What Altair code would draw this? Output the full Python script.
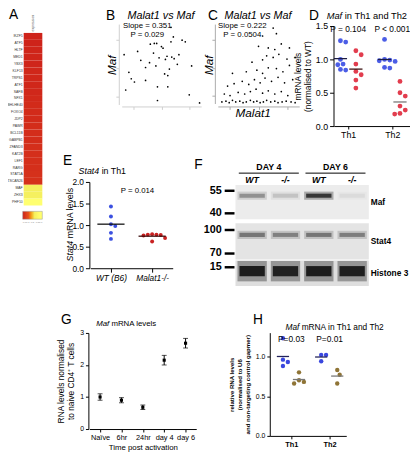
import altair as alt
import numpy as np
import pandas as pd

FONT = "Liberation Sans"
W, H = 410, 444


def cx(p):
    return p - 8


def cy(p):
    return p - 8


# ===================== DATA =====================
# A: heatmap
genes = ["IKZF5", "ATF5", "HLTF", "MED1", "YBX3", "KLF13", "TRPS1", "ATF1", "SAFB", "NFX1",
         "BHLHE40", "FOXO4", "JDP2", "PAWR", "BCL11B", "GABPB1", "ZFAND3", "KAT2B", "LEF1",
         "RARG", "STAT5A", "ZSCAN26", "MAF", "ZHX3", "PHF10"]
heat = [0.03, 0.03, 0.04, 0.04, 0.04, 0.05, 0.05, 0.05, 0.05, 0.06, 0.07, 0.07, 0.07, 0.08,
        0.08, 0.08, 0.09, 0.09, 0.09, 0.09, 0.10, 0.10, 0.60, 0.62, 0.97]
heat_col = "expression"

# B: Malat1 vs Maf scatter (arbitrary units)
b_malat1 = [62, 3, 36, 41, 44, 50, 62, 76, 80, 47, 55, 57, 63, 66, 72, 30, 43, 60, 9, 54,
            58, 12, 30, 16, 45, 58, 85, 45, 98, 24, 35, 70, 52, 65, 20, 40, 88, 5]
b_maf = [96, 62, 75, 76, 76, 72, 78, 80, 78, 58, 56, 60, 59, 57, 62, 46, 48, 44, 40, 38,
         36, 32, 30, 28, 22, 22, 12, 5, 2, 55, 52, 50, 70, 84, 66, 64, 48, 18]

# C: Malat1 vs Maf scatter (arbitrary units)
c_malat1 = [5, 10, 14, 18, 22, 27, 31, 35, 40, 44, 48, 52, 56, 60, 65, 70, 74, 79, 84, 90, 95,
            8, 15, 25, 33, 40, 47, 55, 62, 70, 78, 86,
            12, 20, 30, 38, 45, 52, 58, 66, 74, 82, 92,
            18, 35, 48, 55, 62, 72, 80, 88,
            42, 55, 60, 68, 75, 85, 95,
            50, 62, 70, 78, 88,
            55, 72, 68]
c_maf = [2, 3, 1, 4, 2, 3, 1, 2, 4, 2, 3, 1, 2, 4, 2, 3, 1, 2, 3, 2, 1,
         12, 10, 14, 12, 15, 18, 13, 16, 12, 15, 10,
         22, 25, 28, 24, 30, 26, 32, 28, 33, 26, 30,
         38, 40, 42, 38, 45, 44, 40, 48,
         52, 55, 60, 58, 62, 56, 58,
         72, 70, 68, 75, 70,
         85, 88, 95]

# D: Maf in Th1 and Th2 (normalised to WT)
d_th1_wt = [1.28, 1.26, 1.00, 0.93, 0.92, 0.85, 0.84]
d_th1_ko = [1.13, 1.07, 0.93, 0.82, 0.77, 0.69, 0.57]
d_th2_wt = [1.30, 1.00, 0.99, 0.98, 0.97, 0.88, 0.87]
d_th2_ko = [0.67, 0.50, 0.45, 0.30, 0.24, 0.19, 0.18]
d_pvals = ["P = 0.104", "P < 0.001"]

# E: Stat4 in Th1
e_wt = [1.43, 1.20, 1.02, 0.98, 0.82, 0.68]
e_ko = [0.79, 0.78, 0.78, 0.77, 0.76, 0.70, 0.62]
e_labels = ["WT (B6)", "Malat1-/-"]

# F: western blot
f_lanes = ["WT", "-/-", "WT", "-/-"]
f_days = ["DAY 4", "DAY 6"]
f_proteins = ["Maf", "Stat4", "Histone 3"]
f_intensity = {"Maf": [0.35, 0.15, 0.8, 0.06],
               "Stat4": [0.45, 0.40, 0.45, 0.42],
               "Histone 3": [0.95, 0.92, 0.95, 0.93]}
f_markers = ["55", "40", "100", "70", "15"]

# G: Maf mRNA time course
g_time = ["Naïve", "6hr", "24hr", "day 4", "day 6"]
g_mean = [1.00, 0.90, 0.68, 2.15, 2.68]
g_sem = [0.10, 0.08, 0.07, 0.15, 0.15]

# H: Maf mRNA in Th1 and Th2 (gapmer)
h_th1_ctrl = [1.23, 0.96, 0.93, 0.88]
h_th1_gap = [0.80, 0.70, 0.66, 0.68]
h_th2_ctrl = [1.02, 1.02, 0.94]
h_th2_gap = [0.83, 0.77, 0.66]
h_pvals = ["P=0.03", "P=0.01"]

# ===================== STYLE / LAYOUT =====================
BLUE_D, RED_D = "#4b5de6", "#e23d4e"
BLUE_E, RED_E = "#3b50e0", "#c92222"
BLUE_H, BROWN_H = "#3a47de", "#8f7436"

one = pd.DataFrame({"_": [0]})


def txt(s, px, py, size=9, style="normal", weight="normal", align="left", angle=0,
        baseline="middle", color="black"):
    return alt.Chart(one).mark_text(
        text=s, fontSize=size, fontStyle=style, fontWeight=weight, align=align,
        angle=angle, baseline=baseline, color=color, font=FONT
    ).encode(x=alt.value(cx(px)), y=alt.value(cy(py)))


def swarm(vals, ypx, r):
    placed = []
    offs = [0.0] * len(vals)
    cands = [0.0]
    for k in range(1, 12):
        cands += [k * r, -k * r]
    for i in sorted(range(len(vals)), key=lambda i: -vals[i]):
        y = vals[i] * ypx
        for c in cands:
            if all((c - a) ** 2 + (y - b) ** 2 >= (2 * r) ** 2 * 0.95 for a, b in placed):
                break
        placed.append((c, y))
        offs[i] = c
    return offs


def dotplot(sets, xscale, yscale, xaxis, yaxis, r, ypx, xpx, size, half, lw=1.3):
    pts, means = [], []
    for center, vals, col, lcol in sets:
        offs = swarm(vals, ypx, r)
        for v, o in zip(vals, offs):
            pts.append({"x": center + o / xpx, "y": v, "c": col})
        means.append({"x": center - half, "x2": center + half,
                      "y": float(np.mean(vals)), "c": lcol})
    p = alt.Chart(pd.DataFrame(pts)).mark_circle(size=size, opacity=1).encode(
        x=alt.X("x:Q", scale=xscale, axis=xaxis),
        y=alt.Y("y:Q", scale=yscale, axis=yaxis),
        color=alt.Color("c:N", scale=None))
    l = alt.Chart(pd.DataFrame(means)).mark_rule(strokeWidth=lw).encode(
        x=alt.X("x:Q", scale=xscale, axis=None), x2="x2:Q",
        y=alt.Y("y:Q", scale=yscale, axis=None),
        color=alt.Color("c:N", scale=None))
    return [p, l]


layers = []

# ===================== PANEL A =====================
dfA = pd.DataFrame({"gene": genes, "col": [heat_col] * len(genes), "v": heat})
layers.append(alt.Chart(dfA).mark_rect().encode(
    x=alt.X("col:N", scale=alt.Scale(range=[cx(24), cx(43)], paddingInner=0, paddingOuter=0),
            axis=alt.Axis(orient="top", offset=-cy(29), labelAngle=270, labelFontSize=3.5,
                          ticks=False, domain=False, title=None, labelPadding=2,
                          labelColor="#555555")),
    y=alt.Y("gene:N", sort=genes,
            scale=alt.Scale(range=[cy(29), cy(205)], paddingInner=0, paddingOuter=0),
            axis=alt.Axis(orient="left", offset=-cx(24), labelFontSize=3.5, ticks=False,
                          domain=False, title=None, labelPadding=1.5, labelColor="#333333")),
    color=alt.Color("v:Q",
                    scale=alt.Scale(domain=[0, 0.3, 0.6, 1.0],
                                    range=["#cb1b1a", "#e8521c", "#f4ef5e", "#ffffff"]),
                    legend=alt.Legend(orient="none", legendX=cx(23), legendY=cy(211),
                                      direction="horizontal", gradientLength=20,
                                      gradientThickness=8, title=None, labelFontSize=2.5,
                                      labelColor="#888888", values=[0, 0.25, 0.5, 0.75, 1],
                                      labelOverlap=False, gradientStrokeColor="#999999",
                                      gradientStrokeWidth=0.5, format=".1f")),
))


# ===================== PANEL B / C =====================
def scatter(xs, ys, x0, x1, y0, y1, axis_x, axis_y, col):
    df = pd.DataFrame({"m": xs, "f": ys})
    xs_ = alt.Scale(domain=[0, 100], range=[cx(x0), cx(x1)], nice=False, zero=False)
    ys_ = alt.Scale(domain=[0, 100], range=[cy(y0), cy(y1)], nice=False, zero=False)
    return alt.Chart(df).mark_circle(size=3, color="black", opacity=1).encode(
        x=alt.X("m:Q", scale=xs_,
                axis=alt.Axis(orient="bottom", offset=cy(axis_y) - H, labels=False,
                              title=None, values=[15, 50, 85], tickSize=3,
                              domainColor=col, tickColor=col)),
        y=alt.Y("f:Q", scale=ys_,
                axis=alt.Axis(orient="left", offset=-cx(axis_x), labels=False,
                              title=None, values=[10, 45, 80], tickSize=3,
                              domainColor=col, tickColor=col)),
    )


layers.append(scatter(b_malat1, b_maf, 124, 205, 102, 20, 121, 104, "#cfcfcf"))
layers.append(scatter(c_malat1, c_maf, 222, 305, 101, 20, 219, 104, "#aaaaaa"))

# ===================== PANEL D =====================
dx = alt.Scale(domain=[0.35, 3.8], range=[cx(340.3), cx(417.9)], nice=False, zero=False)
dy = alt.Scale(domain=[0, 1.5], range=[cy(124), cy(22)], nice=False, zero=False)
layers += dotplot(
    [(0.65, d_th1_wt, BLUE_D, "#1c1c44"), (1.35, d_th1_ko, RED_D, "#3a1010"),
     (2.65, d_th2_wt, BLUE_D, "#1c1c44"), (3.35, d_th2_ko, RED_D, "#777777")],
    dx, dy,
    alt.Axis(orient="bottom", offset=cy(124) - H, values=[1, 3],
             labelExpr="datum.value < 2 ? 'Th1' : 'Th2'", title=None, labelFontSize=9,
             tickSize=3, labelPadding=2),
    alt.Axis(orient="left", offset=-cx(340), values=[0, 0.5, 1.0, 1.5], format=".1f",
             labelFontSize=9, tickSize=4,
             title=["mRNA levels", "(normalised to WT)"], titleFontSize=8.5,
             titleFontWeight="normal", titlePadding=3),
    r=2.7, ypx=68, xpx=22.5, size=24, half=0.3)
layers.append(alt.Chart(pd.DataFrame({"x": [1, 3], "t": d_pvals})).mark_text(
    fontSize=8.5, font=FONT).encode(
    x=alt.X("x:Q", scale=dx, axis=None), y=alt.value(cy(25)), text="t:N"))

# ===================== PANEL E =====================
ex = alt.Scale(domain=[0.5, 2.5], range=[cx(92), cx(176)], nice=False, zero=False)
ey = alt.Scale(domain=[0, 2], range=[cy(269), cy(181)], nice=False, zero=False)
layers += dotplot(
    [(1, e_wt, BLUE_E, "#111111"), (2, e_ko, RED_E, "#3a0c0c")],
    ex, ey,
    alt.Axis(orient="bottom", offset=cy(269) - H, values=[1, 2],
             labelExpr="datum.value < 1.5 ? '" + e_labels[0] + "' : '" + e_labels[1] + "'",
             title=None, labelFontSize=8.5, labelFontStyle="italic", tickSize=4,
             labelPadding=2),
    alt.Axis(orient="left", offset=-cx(91), values=[0, 0.5, 1.0, 1.5, 2.0], format=".1f",
             labelFontSize=8.5, tickSize=4, title=None),
    r=2.2, ypx=44, xpx=42, size=16, half=0.33)

# ===================== PANEL F =====================
fx = alt.Scale(domain=[0, 4], range=[cx(240), cx(376)], nice=False, zero=False)
fy = alt.Scale(domain=[0, 104], range=[cy(183), cy(287)], nice=False, zero=False)
strip_top = {"Maf": 1, "Stat4": 40, "Histone 3": 78}
strip_bot = {"Maf": 36, "Stat4": 77, "Histone 3": 104}
strip_bg = {"Maf": "#ececec", "Stat4": "#e4e4e4", "Histone 3": "#dedede"}
band_c = {"Maf": 12, "Stat4": 52, "Histone 3": 89}
band_h = {"Maf": 2.6, "Stat4": 2.6, "Histone 3": 6.5}
marker_pos = [7, 30, 47, 71, 85]

dfS = pd.DataFrame({"p": f_proteins, "x0": 0, "x1": 4,
                    "t": [strip_top[p] for p in f_proteins],
                    "b": [strip_bot[p] for p in f_proteins],
                    "bg": [strip_bg[p] for p in f_proteins]})
dfS["mid"] = (dfS["t"] + dfS["b"]) / 2
layers.append(alt.Chart(dfS).mark_rect().encode(
    x=alt.X("x0:Q", scale=fx, axis=None), x2="x1:Q",
    y=alt.Y("t:Q", scale=fy, axis=None), y2="b:Q",
    color=alt.Color("bg:N", scale=None)))

rows = []
for p in f_proteins:
    for i, lane in enumerate(f_lanes):
        rows.append({"p": p, "l": i, "o": f_intensity[p][i], "c": band_c[p], "h": band_h[p]})
dfBand = pd.DataFrame(rows)
dfBand["halo_x0"] = dfBand["l"] + 0.06
dfBand["halo_x1"] = dfBand["l"] + 0.94
dfBand["halo_y0"] = dfBand["c"] - dfBand["h"] * 1.6
dfBand["halo_y1"] = dfBand["c"] + dfBand["h"] * 1.6
dfBand["core_x0"] = dfBand["l"] + 0.12
dfBand["core_x1"] = dfBand["l"] + 0.88
dfBand["core_y0"] = dfBand["c"] - dfBand["h"] * 0.8
dfBand["core_y1"] = dfBand["c"] + dfBand["h"] * 0.8
dfBand["oh"] = dfBand["o"] * 0.35
dfBand["oc"] = dfBand["o"] * 0.85
layers.append(alt.Chart(dfBand).mark_rect(color="black").encode(
    x=alt.X("halo_x0:Q", scale=fx, axis=None), x2="halo_x1:Q",
    y=alt.Y("halo_y0:Q", scale=fy, axis=None), y2="halo_y1:Q",
    opacity=alt.Opacity("oh:Q", scale=None)))
layers.append(alt.Chart(dfBand).mark_rect(color="black").encode(
    x=alt.X("core_x0:Q", scale=fx, axis=None), x2="core_x1:Q",
    y=alt.Y("core_y0:Q", scale=fy, axis=None), y2="core_y1:Q",
    opacity=alt.Opacity("oc:Q", scale=None)))

dfM = pd.DataFrame({"k": f_markers, "y": marker_pos})
layers.append(alt.Chart(dfM).mark_text(fontSize=11, fontWeight="bold", align="right",
                                       font=FONT).encode(
    x=alt.value(cx(226)), y=alt.Y("y:Q", scale=fy, axis=None), text="k:N"))
layers.append(alt.Chart(dfM).mark_rule(strokeWidth=2.5, color="black").encode(
    x=alt.value(cx(229)), x2=alt.value(cx(239)), y=alt.Y("y:Q", scale=fy, axis=None)))

dfDay = pd.DataFrame({"d": f_days, "x0": [0.1, 2.1], "x1": [1.9, 3.9], "xm": [1, 3]})
layers.append(alt.Chart(dfDay).mark_text(fontSize=9, fontWeight="bold", font=FONT).encode(
    x=alt.X("xm:Q", scale=fx, axis=None), y=alt.value(cy(166)), text="d:N"))
layers.append(alt.Chart(dfDay).mark_rule(strokeWidth=1, color="black").encode(
    x=alt.X("x0:Q", scale=fx, axis=None), x2="x1:Q", y=alt.value(cy(172))))
dfLane = pd.DataFrame({"g": f_lanes, "x": [0.5, 1.5, 2.5, 3.5]})
layers.append(alt.Chart(dfLane).mark_text(fontSize=9, fontWeight="bold", fontStyle="italic",
                                          font=FONT).encode(
    x=alt.X("x:Q", scale=fx, axis=None), y=alt.value(cy(179)), text="g:N"))
layers.append(alt.Chart(dfS).mark_text(fontSize=8.5, fontWeight="bold", align="left",
                                       font=FONT).encode(
    x=alt.value(cx(378)), y=alt.Y("mid:Q", scale=fy, axis=None), text="p:N"))

# ===================== PANEL G =====================
dfG = pd.DataFrame({"t": g_time, "m": g_mean,
                    "lo": np.array(g_mean) - np.array(g_sem),
                    "hi": np.array(g_mean) + np.array(g_sem)})
gx = alt.Scale(type="point", domain=g_time, range=[cx(91), cx(200)], padding=0.5)
gy = alt.Scale(domain=[0, 3], range=[cy(433), cy(335)], nice=False, zero=False)
layers.append(alt.Chart(dfG).mark_rule(strokeWidth=1, color="black").encode(
    x=alt.X("t:N", scale=gx, sort=g_time,
            axis=alt.Axis(orient="bottom", offset=cy(433) - H, labelAngle=0,
                          labelFontSize=7.5, tickSize=3, title="Time post activation",
                          titleFontSize=8, titleFontWeight="normal", titlePadding=2,
                          labelPadding=2)),
    y=alt.Y("lo:Q", scale=gy,
            axis=alt.Axis(orient="left", offset=-cx(90), values=[0, 1, 2, 3],
                          labelFontSize=7, tickSize=3,
                          title=["RNA levels normalised", "to naive CD4⁺ T cells"],
                          titleFontSize=8.5, titleFontWeight="normal", titlePadding=4)),
    y2="hi:Q"))
layers.append(alt.Chart(dfG).mark_tick(size=5, thickness=1, color="black").encode(
    x=alt.X("t:N", scale=gx, sort=g_time, axis=None), y=alt.Y("lo:Q", scale=gy, axis=None)))
layers.append(alt.Chart(dfG).mark_tick(size=5, thickness=1, color="black").encode(
    x=alt.X("t:N", scale=gx, sort=g_time, axis=None), y=alt.Y("hi:Q", scale=gy, axis=None)))
layers.append(alt.Chart(dfG).mark_square(size=10, color="black", opacity=1).encode(
    x=alt.X("t:N", scale=gx, sort=g_time, axis=None), y=alt.Y("m:Q", scale=gy, axis=None)))

# ===================== PANEL H =====================
hx = alt.Scale(domain=[0.436, 2.436], range=[cx(275), cx(353)], nice=False, zero=False)
hy = alt.Scale(domain=[0, 1.3], range=[cy(440), cy(334.7)], nice=False, zero=False)
layers += dotplot(
    [(0.78, h_th1_ctrl, BLUE_H, "#22225a"), (1.2, h_th1_gap, BROWN_H, "#777777"),
     (1.78, h_th2_ctrl, BLUE_H, "#22225a"), (2.2, h_th2_gap, BROWN_H, "#777777")],
    hx, hy,
    alt.Axis(orient="bottom", offset=cy(440) - H, values=[1, 2],
             labelExpr="datum.value < 1.5 ? 'Th1' : 'Th2'", title=None, labelFontSize=7.5,
             labelFontWeight="bold", tickSize=3, labelPadding=2),
    alt.Axis(orient="left", offset=-cx(275), values=[0, 0.5, 1.0], format=".1f",
             labelFontSize=7, tickSize=3,
             title=["relative RNA levels", "(normalised to U6",
                    "and non-targeting control gapmer)"],
             titleFontSize=6.2, titleFontWeight="bold", titlePadding=5),
    r=2.5, ypx=81, xpx=39, size=20, half=0.16)
layers.append(alt.Chart(pd.DataFrame({"x": [1, 2], "t": h_pvals})).mark_text(
    fontSize=8.5, font=FONT).encode(
    x=alt.X("x:Q", scale=hx, axis=None), y=alt.value(cy(341)), text="t:N"))

# ===================== ANNOTATIONS =====================
layers += [
    txt("A", 9, 11, size=14), txt("B", 108, 12, size=14), txt("C", 212, 12, size=14),
    txt("D", 315, 12, size=14), txt("E", 64, 160, size=14), txt("F", 198, 164, size=14),
    txt("G", 62, 322, size=14), txt("H", 258, 322, size=14),
    # B
    txt("Malat1 vs Maf", 164, 12, size=11, style="italic", align="center"),
    txt("Slope = 0.351", 150, 22, size=8, align="center"),
    txt("P = 0.029", 150, 31, size=8, align="center"),
    txt("Maf", 114, 62, size=12, style="italic", align="center", angle=270),
    # C
    txt("Malat1 vs Maf", 263, 12, size=11, style="italic", align="center"),
    txt("Slope = 0.222", 247, 22, size=8, align="center"),
    txt("P = 0.0504", 247, 31, size=8, align="center"),
    txt("Maf", 213, 62, size=12, style="italic", align="center", angle=270),
    txt("Malat1", 258, 111, size=12, style="italic", align="center"),
    # D title
    txt("Maf", 333, 12, size=9.5, style="italic"),
    txt("in Th1 and Th2", 351.5, 12, size=9.5),
    # E
    txt("Stat4", 80, 170, size=9, style="italic"),
    txt("in Th1", 103.5, 170, size=9),
    txt("P = 0.014", 140, 190, size=8, align="center"),
    txt("Stat4", 71, 262, size=9, style="italic", angle=270),
    txt("mRNA levels", 71, 238.5, size=9, angle=270),
    # G
    txt("Maf", 98, 326, size=8, style="italic"),
    txt("mRNA levels", 113.5, 326, size=8),
    # H
    txt("Maf", 291, 329, size=8.5, style="italic"),
    txt("mRNA in Th1 and Th2", 307.5, 329, size=8.5),
]

chart = alt.layer(*layers).resolve_scale(
    x="independent", y="independent", color="independent", opacity="independent"
).properties(
    width=W, height=H, autosize=alt.AutoSizeParams(type="none"), padding=0
).configure_view(stroke=None).configure_axis(
    labelFont=FONT, titleFont=FONT, grid=False, domainColor="black", tickColor="black",
    labelColor="black", titleColor="black", domainWidth=1, tickWidth=1
).configure_legend(labelFont=FONT).configure_text(font=FONT)

chart.save("out.html", embed_options={"renderer": "svg", "actions": False})
